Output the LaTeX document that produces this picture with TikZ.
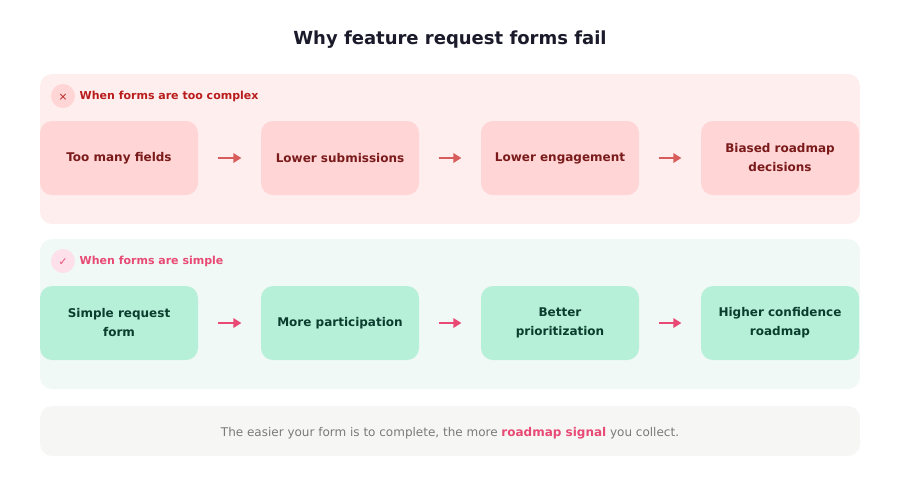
\documentclass[tikz,border=0pt]{standalone}
\usepackage{fontspec}
\setmainfont{DejaVu Sans}
\usetikzlibrary{positioning,arrows.meta}
\definecolor{redpanel}{HTML}{FEEEEE}
\definecolor{redbox}{HTML}{FFD5D5}
\definecolor{redtext}{HTML}{7A1A1A}
\definecolor{redhead}{HTML}{B91C1C}
\definecolor{redarrow}{HTML}{D95C5C}
\definecolor{greenpanel}{HTML}{F0F9F5}
\definecolor{greenbox}{HTML}{B6F0D8}
\definecolor{greentext}{HTML}{0B3D2E}
\definecolor{pinkhead}{HTML}{E84A75}
\definecolor{pinkcircle}{HTML}{FDE0EA}
\definecolor{footbg}{HTML}{F6F6F4}
\definecolor{foottext}{HTML}{7A7A7A}
\definecolor{titletext}{HTML}{1A1A2A}
\tikzset{
  panel/.style={rounded corners=9pt, draw=none},
  stage/.style={rounded corners=9pt, minimum width=118.5pt, minimum height=55.5pt,
    align=center, font=\bfseries\fontsize{9}{14.25}\selectfont},
  redstage/.style={stage, fill=redbox, text=redtext},
  greenstage/.style={stage, fill=greenbox, text=greentext},
  flow/.style={-{Triangle[length=6pt,width=7pt]}, line width=2pt},
  head/.style={anchor=west, font=\bfseries\fontsize{8.25}{10}\selectfont},
}
\begin{document}
\begin{tikzpicture}[x=0.75pt,y=-0.75pt]
  \useasboundingbox (0,0) rectangle (900,480);
  \node (title) at (450,40) {\bfseries\fontsize{13.5}{16}\selectfont\color{titletext}Why feature request forms fail};
  % too complex
  \fill[panel, redpanel] (40,74) rectangle (860,224);
  \fill[redbox] (63,96) circle (12);
  \node[text=redhead, font=\fontsize{8}{9}\selectfont] (xmark) at (63,97.5) {×};
  \node[head, text=redhead] (redlabel) at (75,96.5) {When forms are too complex};
  \node[redstage] (r1) at (119,158) {Too many fields};
  \node[redstage] (r2) at (340,158) {Lower submissions};
  \node[redstage] (r3) at (560,158) {Lower engagement};
  \node[redstage] (r4) at (780,158) {Biased roadmap\\decisions};
  \foreach \a/\b in {r1/r2, r2/r3, r3/r4}
    \draw[flow, redarrow] ([xshift=15pt]\a.east) -- ([xshift=-14.5pt]\b.west);
  % simple
  \fill[panel, greenpanel] (40,239) rectangle (860,389);
  \fill[pinkcircle] (63,261) circle (12);
  \node[text=pinkhead, font=\fontsize{8}{9}\selectfont] (check) at (63,262.5) {✓};
  \node[head, text=pinkhead] (greenlabel) at (75,261.5) {When forms are simple};
  \node[greenstage] (g1) at (119,323) {Simple request\\form};
  \node[greenstage] (g2) at (340,323) {More participation};
  \node[greenstage] (g3) at (560,323) {Better\\prioritization};
  \node[greenstage] (g4) at (780,323) {Higher confidence\\roadmap};
  \foreach \a/\b in {g1/g2, g2/g3, g3/g4}
    \draw[flow, pinkhead] ([xshift=15pt]\a.east) -- ([xshift=-14.5pt]\b.west);
  % footer
  \fill[panel, footbg] (40,406) rectangle (860,456);
  \node[text=foottext, font=\fontsize{9}{11}\selectfont] (note) at (450,433)
    {The easier your form is to complete, the more \textcolor{pinkhead}{\bfseries roadmap signal} you collect.};
\end{tikzpicture}
\end{document}
